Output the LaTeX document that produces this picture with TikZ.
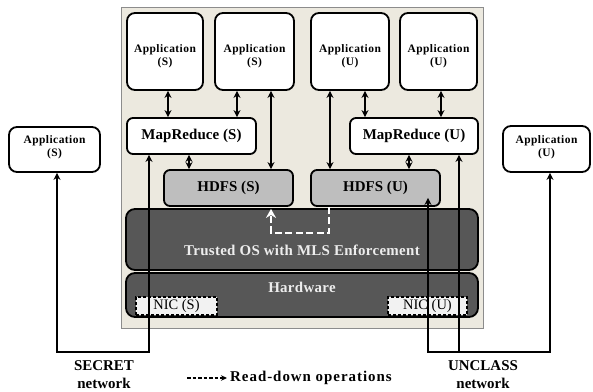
\documentclass[tikz,border=0pt]{standalone}
\usepackage{fontspec}
\setmainfont{Liberation Serif}
\newfontfamily\fA{Liberation Serif}[LetterSpace=4]
\newfontfamily\fB{Liberation Serif}[LetterSpace=0.5]
\newfontfamily\fC{Liberation Serif}[LetterSpace=2]
\newfontfamily\fD{Liberation Serif}[LetterSpace=6.5]
\usetikzlibrary{arrows.meta}
\definecolor{bgbeige}{HTML}{ECE9DF}
\definecolor{hdfsgray}{HTML}{BEBEBE}
\definecolor{darkbox}{HTML}{575757}
\definecolor{nicfill}{HTML}{F2F2F2}
\tikzset{
  panel/.style={draw=black!45, line width=0.6bp, fill=bgbeige, inner sep=0},
  app/.style={draw, line width=1.8bp, rounded corners=8bp, fill=white, inner sep=0},
  apptext/.style={align=center, inner sep=0, font=\fA\bfseries\fontsize{11.5}{13}\selectfont},
  mr/.style={draw, line width=1.8bp, rounded corners=6bp, fill=white, inner sep=0,
    font=\fB\bfseries\fontsize{15}{17}\selectfont},
  hdfs/.style={mr, fill=hdfsgray},
  dark/.style={draw, line width=1.8bp, rounded corners=9bp, fill=darkbox, inner sep=0},
  darktext/.style={text=white!93!black, font=\fC\bfseries\fontsize{15}{17}\selectfont, inner sep=0},
  nic/.style={draw, dash pattern=on 3bp off 2bp, line width=1.4bp, fill=nicfill, inner sep=0,
    font=\fontsize{14.5}{16}\selectfont},
  dbl/.style={line width=1.5bp, {Stealth[length=7bp,width=7bp]}-{Stealth[length=7bp,width=7bp]}},
  net/.style={line width=1.5bp, -{Stealth[length=7bp,width=7bp]}},
  readdown/.style={white, line width=2.6bp, dash pattern=on 7bp off 3.5bp,
    -{Stealth[length=9bp,width=10bp]}},
  caption/.style={align=center, inner sep=0, font=\bfseries\fontsize{15}{17.5}\selectfont},
  legendtext/.style={inner sep=0, font=\fD\bfseries\fontsize{15}{17}\selectfont},
}
\begin{document}
\begin{tikzpicture}[x=1bp,y=-1bp]
\useasboundingbox (0,0) rectangle (593,391);
% background panel
\node[panel, minimum width=362bp, minimum height=321bp] (bg) at (302,167.5) {};
% applications
\node[app, minimum width=76bp, minimum height=77bp] (a1) at (165,51.5) {};
\node[app, minimum width=79bp, minimum height=77bp] (a2) at (254.5,51.5) {};
\node[app, minimum width=78bp, minimum height=77bp] (a3) at (350,51.5) {};
\node[app, minimum width=77bp, minimum height=77bp] (a4) at (438.5,51.5) {};
\node[app, minimum width=91bp, minimum height=45bp] (aL) at (54.5,149.5) {};
\node[app, minimum width=87bp, minimum height=46bp] (aR) at (546.5,149) {};
\node[apptext] (a1t) at ([yshift=-5bp]a1.center) {Application\\(S)};
\node[apptext] (a2t) at ([yshift=-5bp]a2.center) {Application\\(S)};
\node[apptext] (a3t) at ([yshift=-5bp]a3.center) {Application\\(U)};
\node[apptext] (a4t) at ([yshift=-5bp]a4.center) {Application\\(U)};
\node[apptext] (aLt) at ([yshift=2bp]aL.center) {Application\\(S)};
\node[apptext] (aRt) at ([yshift=2bp]aR.center) {Application\\(U)};
% mapreduce and hdfs
\node[mr, minimum width=129bp, minimum height=36bp] (mrS) at (191.5,136) {MapReduce (S)};
\node[mr, minimum width=128bp, minimum height=36bp] (mrU) at (414,136) {MapReduce (U)};
\node[hdfs, minimum width=129bp, minimum height=36bp] (hS) at (228.5,188) {HDFS (S)};
\node[hdfs, minimum width=129bp, minimum height=36bp] (hU) at (375.5,188) {HDFS (U)};
% trusted OS and hardware
\node[dark, minimum width=352bp, minimum height=61bp] (os) at (302,239.5) {};
\node[darktext] (osT) at (302,250) {Trusted OS with MLS Enforcement};
\node[dark, minimum width=352bp, minimum height=44bp] (hw) at (302,295) {};
\node[darktext] (hwT) at (302,287) {Hardware};
\node[nic, minimum width=81bp, minimum height=18bp] (nicS) at (176.5,306) {NIC (S)};
\node[nic, minimum width=79bp, minimum height=18bp] (nicU) at (427.5,306) {NIC (U)};
% app <-> mapreduce / hdfs
\draw[dbl] ([xshift=3bp]a1.south) -- ([xshift=3bp]a1.south |- mrS.north);
\draw[dbl] ([xshift=-17.5bp]a2.south) -- ([xshift=-17.5bp]a2.south |- mrS.north);
\draw[dbl] ([xshift=16.5bp]a2.south) -- ([xshift=16.5bp]a2.south |- hS.north);
\draw[dbl] ([xshift=-20bp]a3.south) -- ([xshift=-20bp]a3.south |- hU.north);
\draw[dbl] ([xshift=15bp]a3.south) -- ([xshift=15bp]a3.south |- mrU.north);
\draw[dbl] ([xshift=2.5bp]a4.south) -- ([xshift=2.5bp]a4.south |- mrU.north);
\draw[dbl] ([xshift=-2.5bp]mrS.south) -- ([xshift=-2.5bp]mrS.south |- hS.north);
\draw[dbl] ([xshift=-5bp]mrU.south) -- ([xshift=-5bp]mrU.south |- hU.north);
% read-down
\coordinate (rd) at (300,233);
\draw[readdown] ([xshift=-46.5bp]hU.south) |- (rd) -| ([xshift=42.5bp,yshift=-2bp]hS.south);
% networks
\coordinate (sB) at (103,352);
\coordinate (uB) at (489,352);
\draw[net] (sB) -| ([xshift=2.5bp]aL.south);
\draw[net] (sB) -| ([xshift=-42.5bp]mrS.south);
\draw[net] (uB) -| ([xshift=52.5bp,yshift=9bp]hU.south);
\draw[net] (uB) -| ([xshift=3.5bp]aR.south);
\draw[net] ([xshift=45bp]mrU.south |- uB) -- ([xshift=45bp]mrU.south);
% labels
\node[caption] (secret) at (104,374.5) {SECRET\\network};
\node[caption] (unclass) at (483,374.5) {UNCLASS\\network};
\coordinate (lg1) at (187,378);
\coordinate (lg2) at (227,378);
\draw[line width=1.3bp, dash pattern=on 3.5bp off 2bp, -{Stealth[length=6bp,width=5.5bp]}] (lg1) -- (lg2);
\node[legendtext, anchor=west] (legend) at (230,378) {Read-down operations};
\end{tikzpicture}
\end{document}
